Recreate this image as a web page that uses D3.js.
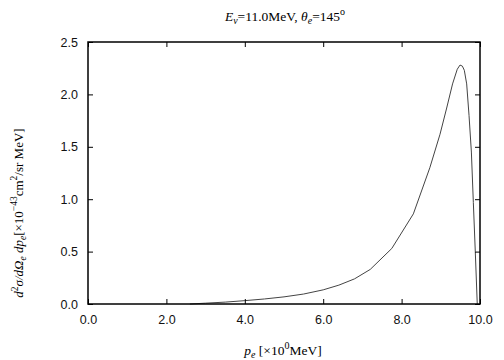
<!DOCTYPE html>
<html>
<head>
<meta charset="utf-8">
<script src="https://cdn.jsdelivr.net/npm/d3@7"></script>
<style>
  body { margin: 0; background: #fff; }
  svg { display: block; }
</style>
</head>
<body>
<div id="graph"></div>
<script>
const width = 504
const height = 360
const margin = { left: 88, right: 24, top: 42, bottom: 56 }

// data
const momentum = [2.6, 3.0, 3.5, 4.0, 4.5, 5.0, 5.5, 6.0, 6.4, 6.8, 7.2, 7.75, 8.3, 8.72, 8.98, 9.15, 9.3, 9.42, 9.49, 9.55, 9.6, 9.66, 9.72, 9.78, 9.83, 9.88, 9.93]
const crossSection = [0.0, 0.008, 0.018, 0.032, 0.048, 0.068, 0.095, 0.135, 0.18, 0.24, 0.33, 0.53, 0.86, 1.3, 1.62, 1.87, 2.1, 2.24, 2.28, 2.27, 2.23, 2.1, 1.8, 1.45, 0.97, 0.5, 0.0]
const xTicks = [0, 2, 4, 6, 8, 10]
const yTicks = [0, 0.5, 1.0, 1.5, 2.0, 2.5]

const points = momentum.map((x, i) => ({ x: x, y: crossSection[i] }))

const svg = d3.select('#graph').append('svg')
  .attr('width', width)
  .attr('height', height)

const xScale = d3.scaleLinear().domain([0, 10]).range([margin.left, width - margin.right])
const yScale = d3.scaleLinear().domain([0, 2.5]).range([height - margin.bottom, margin.top])

const tickFont = '"Liberation Sans", Helvetica, Arial, sans-serif'
const serif = '"Liberation Serif", "Times New Roman", serif'

// curve
svg.append('path')
  .datum(points)
  .attr('fill', 'none')
  .attr('stroke', '#444')
  .attr('stroke-width', 1)
  .attr('d', d3.line().x((d) => xScale(d.x)).y((d) => yScale(d.y)))

// axes, ticks pointing inward on all four sides
const styleAxis = (g) => {
  g.select('.domain').remove()
  g.selectAll('.tick line').attr('stroke', '#000').attr('stroke-width', 1)
  g.selectAll('.tick text').attr('font-family', tickFont).attr('font-size', 12.5).attr('fill', '#111')
}

svg.append('g')
  .attr('transform', `translate(0,${yScale(0)})`)
  .call(d3.axisBottom(xScale).tickValues(xTicks).tickFormat(d3.format('.1f')).tickSizeInner(-5).tickPadding(11))
  .call(styleAxis)

svg.append('g')
  .attr('transform', `translate(0,${yScale(2.5)})`)
  .call(d3.axisTop(xScale).tickValues(xTicks).tickFormat('').tickSizeInner(-5))
  .call(styleAxis)

svg.append('g')
  .attr('transform', `translate(${xScale(0)},0)`)
  .call(d3.axisLeft(yScale).tickValues(yTicks).tickFormat(d3.format('.1f')).tickSizeInner(-5).tickPadding(10))
  .call(styleAxis)

svg.append('g')
  .attr('transform', `translate(${xScale(10)},0)`)
  .call(d3.axisRight(yScale).tickValues(yTicks).tickFormat('').tickSizeInner(-5))
  .call(styleAxis)

// frame
svg.append('rect')
  .attr('x', xScale(0))
  .attr('y', yScale(2.5))
  .attr('width', xScale(10) - xScale(0))
  .attr('height', yScale(0) - yScale(2.5))
  .attr('fill', 'none')
  .attr('stroke', '#000')
  .attr('stroke-width', 1.5)

// title
const title = svg.append('text')
  .attr('x', 285)
  .attr('y', 21)
  .attr('text-anchor', 'middle')
  .attr('font-family', serif)
  .attr('font-size', 13.5)
title.append('tspan').attr('font-style', 'italic').text('E')
title.append('tspan').attr('font-style', 'italic').attr('font-size', 10).attr('dy', 3).text('ν')
title.append('tspan').attr('dy', -3).text('=11.0MeV,  ')
title.append('tspan').attr('font-style', 'italic').text('θ')
title.append('tspan').attr('font-style', 'italic').attr('font-size', 10).attr('dy', 3).text('e')
title.append('tspan').attr('dy', -3).text('=145')
title.append('tspan').attr('font-size', 10).attr('dy', -6).text('o')

// x label
const xLabel = svg.append('text')
  .attr('x', 283)
  .attr('y', 355)
  .attr('text-anchor', 'middle')
  .attr('font-family', serif)
  .attr('font-size', 13.5)
xLabel.append('tspan').attr('font-style', 'italic').text('p')
xLabel.append('tspan').attr('font-style', 'italic').attr('font-size', 10).attr('dy', 3).text('e')
xLabel.append('tspan').attr('dy', -3).text(' [×10')
xLabel.append('tspan').attr('font-size', 10).attr('dy', -6).text('0')
xLabel.append('tspan').attr('dy', 6).text('MeV]')

// y label
const yLabel = svg.append('text')
  .attr('transform', 'translate(23,213) rotate(-90)')
  .attr('text-anchor', 'middle')
  .attr('font-family', serif)
  .attr('font-size', 13)
yLabel.append('tspan').attr('font-style', 'italic').text('d')
yLabel.append('tspan').attr('font-size', 9.5).attr('dy', -5).text('2')
yLabel.append('tspan').attr('font-style', 'italic').attr('dy', 5).text('σ/dΩ')
yLabel.append('tspan').attr('font-style', 'italic').attr('font-size', 9.5).attr('dy', 3).text('e')
yLabel.append('tspan').attr('font-style', 'italic').attr('dy', -3).text(' dp')
yLabel.append('tspan').attr('font-style', 'italic').attr('font-size', 9.5).attr('dy', 3).text('e')
yLabel.append('tspan').attr('dy', -3).text('[×10')
yLabel.append('tspan').attr('font-size', 9.5).attr('dy', -6).text('−43')
yLabel.append('tspan').attr('dy', 6).text('cm')
yLabel.append('tspan').attr('font-size', 9.5).attr('dy', -6).text('2')
yLabel.append('tspan').attr('dy', 6).text('/sr MeV]')
</script>
</body>
</html>
